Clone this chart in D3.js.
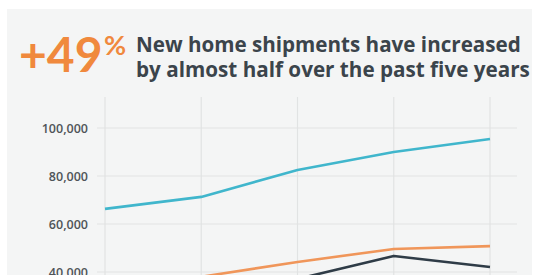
<!DOCTYPE html>
<html>
<head>
<meta charset="utf-8">
<script src="https://cdn.jsdelivr.net/npm/d3@7"></script>
<style>
  body { margin: 0; background: #fff; }
  svg { display: block; }
</style>
</head>
<body>
<svg id="chart"></svg>
<script>
var width = 539,
height = 275;

// data (lower part of the chart is cut off)
var years = ["2013", "2014", "2015", "2016", "2017"];
var seriesA = [66300, 71300, 82500, 90000, 95400];   // cyan
var seriesB = [34000, 38000, 44200, 49600, 50800];   // orange
var seriesC = [30000, 33000, 37100, 46700, 42100];   // dark
var yTicks = [40000, 60000, 80000, 100000];

var colors = ["#40b6cc", "#f0965a", "#2f3c47"];

var svg = d3.select("#chart")
  .attr("width", width)
  .attr("height", height);

// panel background
svg.append("rect")
  .attr("x", 7).attr("y", 9)
  .attr("width", width - 14).attr("height", height - 9)
  .attr("fill", "#f4f5f5");

var x = d3.scalePoint()
  .domain(years)
  .range([105, 490]);

var y = d3.scaleLinear()
  .domain([40000, 100000])
  .range([272, 128]);

// horizontal grid
svg.append("g").selectAll("line")
  .data(yTicks)
  .enter().append("line")
  .attr("x1", 97).attr("x2", 517)
  .attr("y1", function(d){ return y(d); })
  .attr("y2", function(d){ return y(d); })
  .attr("stroke", "#e1e3e3")
  .attr("stroke-width", 1.2);

// vertical grid
svg.append("g").selectAll("line")
  .data(years)
  .enter().append("line")
  .attr("x1", function(d){ return x(d); })
  .attr("x2", function(d){ return x(d); })
  .attr("y1", 97).attr("y2", height)
  .attr("stroke", "#e1e3e3")
  .attr("stroke-width", 1.2);

// y tick labels
svg.append("g").selectAll("text")
  .data(yTicks)
  .enter().append("text")
  .attr("x", 88)
  .attr("y", function(d){ return y(d); })
  .attr("dy", "0.36em")
  .attr("text-anchor", "end")
  .style("font-family", "'Open Sans', sans-serif")
  .style("font-weight", "600")
  .style("font-size", "12.5px")
  .style("fill", "#4f5458")
  .text(function(d){ return d3.format(",")(d); });

var line = d3.line()
  .x(function(d, i){ return x(years[i]); })
  .y(function(d){ return y(d); });

[seriesA, seriesB, seriesC].forEach(function(s, k){
  svg.append("path")
    .datum(s)
    .attr("d", line)
    .attr("fill", "none")
    .attr("stroke", colors[k])
    .attr("stroke-width", 2.6)
    .attr("stroke-linejoin", "round");
});

// headline
svg.append("text")
  .attr("x", 19).attr("y", 72)
  .style("font-family", "Lato, sans-serif")
  .style("font-weight", "bold")
  .style("font-size", "48px")
  .style("fill", "#f0893d")
  .text("+49");

svg.append("text")
  .attr("x", 104).attr("y", 55)
  .style("font-family", "Lato, sans-serif")
  .style("font-weight", "bold")
  .style("font-size", "27px")
  .style("fill", "#f0893d")
  .text("%");

var title = ["New home shipments have increased", "by almost half over the past five years"];
svg.append("g").selectAll("text")
  .data(title)
  .enter().append("text")
  .attr("x", 136)
  .attr("y", function(d, i){ return 52 + i * 25; })
  .style("font-family", "'Open Sans', sans-serif")
  .style("font-weight", "bold")
  .style("font-size", "20px")
  .style("fill", "#3b444b")
  .text(function(d){ return d; })
  .each(function(d, i){
    // fit to the measured width in the picture
    var target = i == 0 ? 385 : 394;
    var w = this.getComputedTextLength();
    d3.select(this).style("font-size", (20 * target / w) + "px");
  });
</script>
</body>
</html>
